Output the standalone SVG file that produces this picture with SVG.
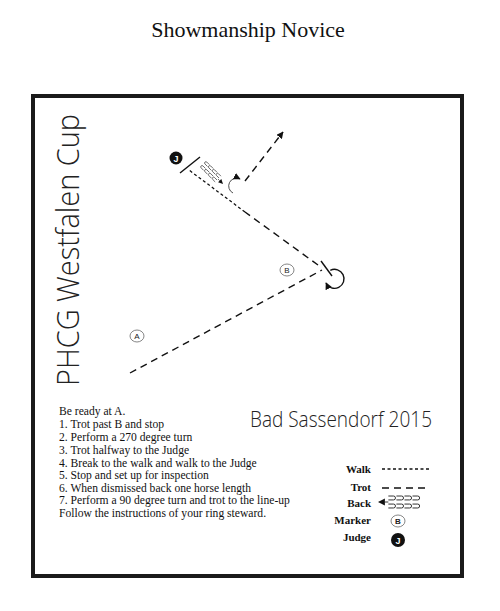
<svg xmlns="http://www.w3.org/2000/svg" width="500" height="611" viewBox="0 0 500 611">
<style>
.walk{fill:none;stroke:#111;stroke-width:1.3;stroke-dasharray:3 2.5}
.trot{fill:none;stroke:#111;stroke-width:1.4;stroke-dasharray:7 5}
.solid{fill:none;stroke:#111;stroke-width:1.4}
.thin{fill:none;stroke:#222;stroke-width:0.8}
.instr{font-family:"Liberation Serif",serif;font-size:11.6px;fill:#111}
.leg{font-family:"Liberation Serif",serif;font-size:11px;font-weight:bold;fill:#111;text-anchor:end}
.mk{fill:#fff;stroke:#777;stroke-width:0.9}
.mkt{font-family:"Liberation Sans",sans-serif;font-size:8px;fill:#222;text-anchor:middle}
.hand{font-family:"Open Sans","Inter",sans-serif;font-weight:300;fill:#222}
</style>
<defs>
<marker id="ah" viewBox="0 0 10 10" refX="9" refY="5" markerWidth="7" markerHeight="7" orient="auto" markerUnits="userSpaceOnUse">
<path d="M0,0 L10,5 L0,10 z" fill="#111"/>
</marker>
<g id="back">
<path d="M0,0 L6,-3 L6,3 z" fill="#111"/>
<path class="thin" d="M6,0 H9 M9,-5.2 h4.5 a1.7,1.7 0 0 1 0,3.4 h-4.5 M16,-5.2 h4.5 a1.7,1.7 0 0 1 0,3.4 h-4.5 M23,-5.2 h4.5 a1.7,1.7 0 0 1 0,3.4 h-4.5 M30,-5.2 h4.5 a1.7,1.7 0 0 1 0,3.4 h-4.5 M9,1.8 h4.5 a1.7,1.7 0 0 1 0,3.4 h-4.5 M16,1.8 h4.5 a1.7,1.7 0 0 1 0,3.4 h-4.5 M23,1.8 h4.5 a1.7,1.7 0 0 1 0,3.4 h-4.5 M30,1.8 h4.5 a1.7,1.7 0 0 1 0,3.4 h-4.5"/>
</g>
</defs>
<rect width="500" height="611" fill="#fff"/>
<text x="248" y="37" font-family="Liberation Serif,serif" font-size="22" text-anchor="middle" fill="#111">Showmanship Novice</text>
<rect x="33" y="96" width="429" height="480" fill="none" stroke="#1a1a1a" stroke-width="4"/>
<text class="hand" transform="translate(79,386) rotate(-90)" font-size="31" textLength="272" lengthAdjust="spacingAndGlyphs">PHCG Westfalen Cup</text>
<text class="hand" x="250" y="427" font-size="22" textLength="182" lengthAdjust="spacingAndGlyphs">Bad Sassendorf 2015</text>
<g id="connectors">
<path class="trot" d="M130,373 L322,270"/>
<path class="solid" d="M321,261 L332,276"/>
<path class="solid" d="M330.3,270.3 A9.5,9.5 0 1 1 326,283" marker-end="url(#ah)"/>
<path class="trot" d="M318,265 L245,212"/>
<path class="walk" d="M245,212 L189,170"/>
<path class="solid" d="M180,173 L200,157"/>
<use href="#back" transform="translate(223,184) rotate(-135) scale(0.78)"/>
<path class="thin" d="M233,193 A7,7 0 0 1 240,179" marker-end="url(#ah)"/>
<path class="trot" d="M245,181 L283,132" marker-end="url(#ah)"/>
</g>
<g id="marker-B">
<ellipse class="mk" cx="287" cy="270" rx="7" ry="6"/>
<text class="mkt" x="287" y="273">B</text>
</g>
<g id="marker-A">
<ellipse class="mk" cx="137" cy="336" rx="7" ry="6"/>
<text class="mkt" x="137" y="339">A</text>
</g>
<g id="judge">
<circle cx="176" cy="158" r="6.5" fill="#111"/>
<text x="176" y="161.5" font-family="Liberation Sans,sans-serif" font-size="9" font-weight="bold" fill="#fff" text-anchor="middle">J</text>
</g>
<g id="instructions">
<text class="instr" x="59" y="415">Be ready at A.</text>
<text class="instr" x="59" y="428">1.  Trot past B and stop</text>
<text class="instr" x="59" y="441">2. Perform a 270 degree turn</text>
<text class="instr" x="59" y="454">3. Trot halfway to the Judge</text>
<text class="instr" x="59" y="467">4. Break to the walk and walk to the Judge</text>
<text class="instr" x="59" y="479">5. Stop and set up for inspection</text>
<text class="instr" x="59" y="492">6. When dismissed back one horse length</text>
<text class="instr" x="59" y="504">7. Perform a 90 degree turn and trot to the line-up</text>
<text class="instr" x="59" y="517">Follow the instructions of  your ring steward.</text>
</g>
<g id="legend">
<text class="leg" x="371" y="473">Walk</text>
<path class="walk" d="M382,469 H430"/>
<text class="leg" x="371" y="491">Trot</text>
<path class="trot" d="M382,488 H430"/>
<text class="leg" x="371" y="507">Back</text>
<use href="#back" transform="translate(378,502) scale(1.15)"/>
<text class="leg" x="371" y="524">Marker</text>
<ellipse class="mk" cx="398" cy="521" rx="7" ry="6"/>
<text class="mkt" x="398" y="524" font-weight="bold">B</text>
<text class="leg" x="371" y="541">Judge</text>
<circle cx="398" cy="540" r="7" fill="#111"/>
<text x="398" y="543.5" font-family="Liberation Sans,sans-serif" font-size="9" font-weight="bold" fill="#fff" text-anchor="middle">J</text>
</g>
</svg>
